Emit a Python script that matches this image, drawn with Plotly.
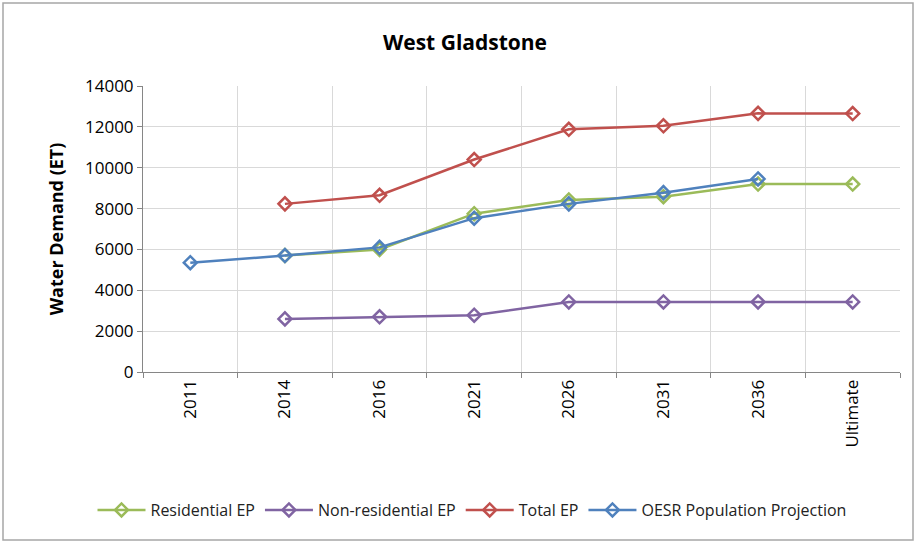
import plotly.graph_objects as go

categories = ["2011", "2014", "2016", "2021", "2026", "2031", "2036", "Ultimate"]
residential = [None, 5700, 6000, 7750, 8420, 8580, 9200, 9200]
non_residential = [None, 2600, 2700, 2780, 3430, 3430, 3430, 3430]
total = [None, 8230, 8650, 10400, 11880, 12050, 12660, 12650]
oesr = [5350, 5700, 6100, 7530, 8230, 8780, 9450, None]
series_names = ["Residential EP", "Non-residential EP", "Total EP", "OESR Population Projection"]
colors = ["#9BBB59", "#8064A2", "#C0504D", "#4F81BD"]

W, H = 916, 543
L, R, T, B = 143, 16, 86, 171

fig = go.Figure()
for name, vals, col in zip(series_names, [residential, non_residential, total, oesr], colors):
    fig.add_trace(go.Scatter(
        x=categories, y=vals, name=name, mode="lines+markers",
        line=dict(color=col, width=2.5),
        marker=dict(symbol="diamond-open", size=10, color=col, line=dict(width=2.5, color=col)),
        connectgaps=False,
    ))

pw = W - L - R
ph = H - T - B
fig.add_shape(type="rect", xref="paper", yref="paper",
              x0=(3 - L) / pw, x1=(913 - L) / pw,
              y0=(H - B - 540) / ph, y1=(H - B - 3) / ph,
              line=dict(color="#A6A6A6", width=1.5), fillcolor="rgba(0,0,0,0)", layer="below")

fig.update_layout(
    width=W, height=H,
    margin=dict(l=L, r=R, t=T, b=B),
    paper_bgcolor="white", plot_bgcolor="white",
    title=dict(text="<b>West Gladstone</b>", x=(465 - L) / pw, xanchor="center", y=1 - 43 / H, yanchor="middle",
               xref="paper",
               font=dict(family="Open Sans, sans-serif", size=21, color="#000")),
    font=dict(family="Open Sans, Noto Sans, sans-serif", color="#000"),
    showlegend=True,
    legend=dict(orientation="h", x=(472 - L) / pw, xanchor="center", y=-(510 - (H - B)) / ph, yanchor="middle",
                font=dict(family="Open Sans, sans-serif", size=16, color="#222"),
                itemwidth=48, tracegroupgap=0),
    xaxis=dict(type="category", tickson="boundaries", showgrid=True, gridcolor="#D9D9D9",
               showline=True, linecolor="#868686", linewidth=1,
               ticks="outside", ticklen=5, tickcolor="#868686",
               tickangle=-90, tickfont=dict(size=17, family="Open Sans, sans-serif"),
               range=[-0.5, 7.5]),
    yaxis=dict(range=[0, 14000], dtick=2000, tickformat="d", showgrid=True, gridcolor="#D9D9D9",
               showline=True, linecolor="#868686", linewidth=1,
               ticks="outside", ticklen=5, tickcolor="#868686",
               tickfont=dict(size=17, family="Open Sans, sans-serif"),
               title=dict(text="<b>Water Demand (ET)</b>", font=dict(size=18, family="Open Sans, sans-serif"),
                          standoff=16),
               zeroline=False),
)

fig.write_html("out.html")
